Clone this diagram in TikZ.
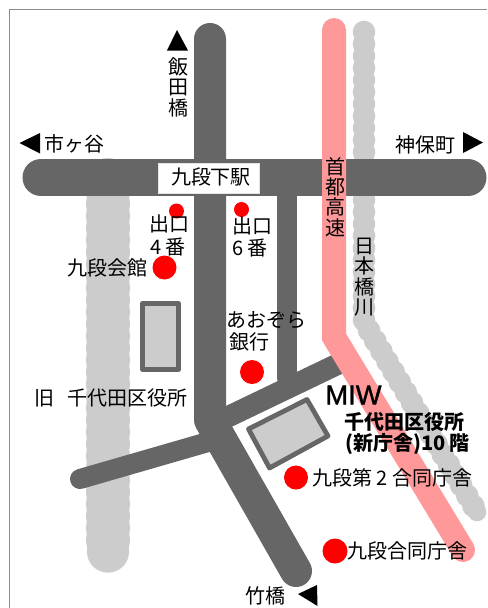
\documentclass[tikz,border=0pt]{standalone}
\usepackage{fontspec}
\setmainfont{Noto Sans CJK JP}
\newfontfamily\latinbold[FakeBold=1.2]{Liberation Sans}
\tikzset{
  road/.style={draw=roadgray,line cap=round,line join=round},
  river/.style={draw=rivergray,line cap=round,line join=round},
  scallop/.style={draw=rivergray,line cap=round,dash pattern=on 0pt off 9pt},
  highway/.style={draw=hwpink,line width=18pt,line cap=round,line join=miter},
  bldg/.style={draw=roadgray,fill=rivergray,line width=3.6pt,line join=round},
  dot/.style={circle,fill=red,inner sep=0pt,minimum size=#1*0.75pt},
  lab/.style={inner sep=0pt,font=\fontsize{15pt}{17pt}\selectfont,align=center,text=black},
  vlab/.style={lab,text width=16pt,align=center,font=\fontsize{15pt}{15.3pt}\selectfont},
  blab/.style={inner sep=0pt,font=\fontsize{15pt}{17pt}\selectfont\bfseries,text=black},
  tri/.style={fill=black,draw=none}
}
\definecolor{roadgray}{HTML}{666666}
\definecolor{rivergray}{HTML}{CCCCCC}
\definecolor{hwpink}{HTML}{FF9999}
\definecolor{framegray}{HTML}{8C8C8C}
\begin{document}
\begin{tikzpicture}[x=0.75pt,y=-0.75pt]
\useasboundingbox (0,0) rectangle (487,608);
\fill[white] (0,0) rectangle (487,608);
\draw[framegray,line width=0.8pt] (9.5,608) -- (9.5,9.5) -- (487,9.5);
% rivers
\draw[river,line width=31pt] (108,180) -- (108,552);
\draw[scallop,line width=33pt] (108,180) -- (108,550);
\draw[river,line width=14pt] (364,36) -- (364,322) -- (477,512);
\draw[scallop,line width=17pt] (364,32) -- (364,322) -- (477,512);
% roads
\draw[road,line width=15.5pt] (287,180) -- (287,378);
\draw[road,line width=16pt] (338,364) -- (215,423);
\draw[road,line width=15pt] (80,479) -- (215,440);
\draw[road,line width=24pt] (210,39) -- (210,420) -- (296,571);
\draw[road,line width=27.75pt] (41,177.5) -- (468,177.5);
% highway
\draw[highway] (334,30) -- (334,337) -- (463,550);
% buildings
\draw[bldg] (142.5,303.5) rectangle (178.5,369.5);
\draw[bldg] (248.5,429) -- (307,399.5) -- (328,436) -- (269.5,468) -- cycle;
% arrows
\fill[tri] (177,30) -- (188,50.5) -- (167,50.5) -- cycle;
\fill[tri] (19.5,143) -- (40,133) -- (40,153.5) -- cycle;
\fill[tri] (483,142.5) -- (463,132) -- (463,153) -- cycle;
\fill[tri] (298,594) -- (317,585) -- (317.5,606) -- cycle;
% dots
\node[dot=15] (d4) at (176.5,211) {};
\node[dot=15] (d6) at (241.5,209.5) {};
\node[dot=24] (dk) at (164.5,267.5) {};
\node[dot=24] (da) at (252,372) {};
\node[dot=24] (d2) at (296,477.5) {};
\node[dot=25] (dg) at (335,551) {};
% labels
\node[fill=white,draw=white!90!black,line width=0.4pt,minimum width=75.5pt,minimum height=22.5pt,inner sep=0pt] (st) at (208.5,178) {};
\node[lab] (stl) at (211,177) {九段下駅};
\node[vlab] (iida) at (178,87) {飯\\田\\橋};
\node[lab] (ichi) at (75,144) {市ヶ谷};
\node[lab] (jimbo) at (425.5,145) {神保町};
\node[vlab] (shuto) at (335.5,197) {首\\都\\高\\速};
\node[vlab] (nihon) at (364,277) {日\\本\\橋\\川};
\node[lab] (e4) at (169.5,224) {出口};
\node[lab] (n4) at (168,247) {4 番};
\node[lab] (e6) at (252,226) {出口};
\node[lab] (n6) at (250,248) {6 番};
\node[lab] (kaikan) at (107.5,268) {九段会館};
\node[lab] (aozora) at (266,320) {あおぞら};
\node[lab] (ginko) at (249.5,342) {銀行};
\node[lab] (kyu) at (111,398) {旧\hspace{10pt}千代田区役所};
\node[inner sep=0pt,font=\latinbold\fontsize{20.5pt}{21pt}\selectfont] (miw) at (353.5,395) {MIW};
\node[blab] (chiyoda) at (404.5,422) {千代田区役所};
\node[blab] (shin) at (407.5,444) {(新庁舎)10 階};
\node[lab] (dai2) at (392.5,478) {九段第 2 合同庁舎};
\node[lab] (godo) at (407.5,551) {九段合同庁舎};
\node[lab] (take) at (265.5,596) {竹橋};
\end{tikzpicture}
\end{document}
